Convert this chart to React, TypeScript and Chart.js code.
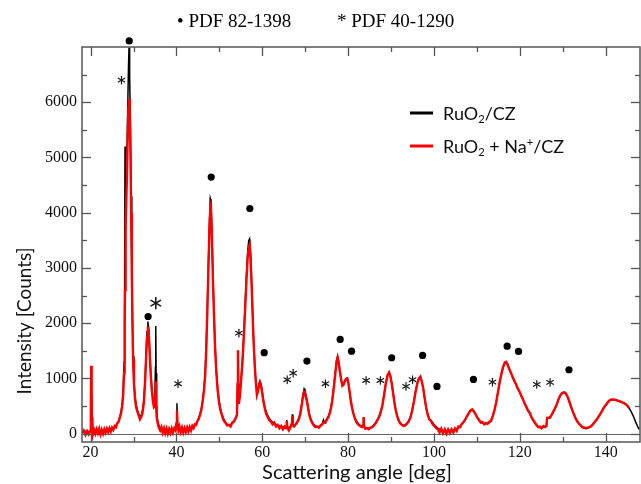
import React, { useEffect, useRef } from 'react';
import { Chart, registerables } from 'chart.js';

Chart.register(...registerables);

// ---------------- data ----------------
const angles = [
  18.0, 18.4, 18.8, 19.2, 19.6, 19.9, 20.05, 20.15, 20.25, 20.35,
  20.5, 20.8, 21.1, 21.4, 21.7, 22.0, 22.3, 22.6, 22.9, 23.2,
  23.5, 23.8, 24.1, 24.4, 24.7, 25.0, 25.3, 25.6, 25.9, 26.2,
  26.5, 26.8, 27.1, 27.4, 27.6, 27.8, 27.9, 27.97, 28.02, 28.08,
  28.25, 28.45, 28.65, 28.82, 28.95, 29.05, 29.15, 29.3, 29.45, 29.6,
  29.75, 29.9, 30.1, 30.35, 30.6, 30.9, 31.2, 31.5, 31.8, 32.1,
  32.4, 32.7, 32.95, 33.15, 33.35, 33.55, 33.75, 34.0, 34.25, 34.5,
  34.75, 34.95, 35.1, 35.18, 35.27, 35.4, 35.6, 35.9, 36.2, 36.5,
  36.8, 37.1, 37.4, 37.7, 38.0, 38.3, 38.6, 38.9, 39.2, 39.5,
  39.8, 40.0, 40.12, 40.25, 40.45, 40.7, 41.0, 41.3, 41.6, 41.9,
  42.2, 42.5, 42.8, 43.1, 43.4, 43.7, 44.0, 44.3, 44.6, 44.9,
  45.2, 45.5, 45.8, 46.1, 46.4, 46.7, 46.95, 47.2, 47.45, 47.7,
  47.9, 48.05, 48.25, 48.5, 48.75, 49.0, 49.3, 49.6, 49.9, 50.2,
  50.6, 51.0, 51.4, 51.8, 52.2, 52.6, 53.0, 53.4, 53.8, 54.1,
  54.25, 54.33, 54.42, 54.55, 54.8, 55.1, 55.4, 55.7, 56.0, 56.3,
  56.6, 56.85, 57.05, 57.25, 57.5, 57.75, 58.0, 58.25, 58.5, 58.75,
  58.95, 59.2, 59.45, 59.7, 60.0, 60.3, 60.6, 60.9, 61.2, 61.6,
  62.0, 62.4, 62.8, 63.2, 63.6, 64.0, 64.4, 64.8, 65.2, 65.55,
  65.7, 65.85, 66.2, 66.6, 66.9, 67.0, 67.12, 67.4, 67.7, 68.0,
  68.3, 68.6, 68.9, 69.2, 69.5, 69.75, 69.95, 70.15, 70.4, 70.65,
  70.9, 71.2, 71.6, 72.0, 72.4, 72.8, 73.2, 73.6, 74.0, 74.25,
  74.4, 74.7, 75.0, 75.4, 75.8, 76.1, 76.4, 76.7, 77.0, 77.3,
  77.55, 77.8, 78.05, 78.35, 78.65, 78.95, 79.25, 79.55, 79.8, 80.05,
  80.3, 80.6, 80.9, 81.2, 81.6, 82.0, 82.4, 82.8, 83.2, 83.5,
  83.6, 83.72, 84.0, 84.4, 84.8, 85.2, 85.6, 86.0, 86.4, 86.8,
  87.2, 87.6, 88.0, 88.4, 88.8, 89.2, 89.55, 89.85, 90.15, 90.45,
  90.75, 91.05, 91.35, 91.7, 92.1, 92.5, 92.9, 93.3, 93.7, 94.1,
  94.5, 94.9, 95.3, 95.7, 96.1, 96.45, 96.8, 97.15, 97.5, 97.85,
  98.2, 98.55, 98.9, 99.3, 99.7, 100.1, 100.5, 100.9, 101.3, 101.7,
  102.1, 102.5, 102.9, 103.3, 103.7, 104.1, 104.5, 104.9, 105.3, 105.7,
  106.1, 106.5, 106.9, 107.3, 107.7, 108.1, 108.5, 108.9, 109.3, 109.7,
  110.1, 110.5, 110.9, 111.3, 111.7, 112.1, 112.5, 112.9, 113.3, 113.7,
  114.1, 114.5, 114.9, 115.3, 115.7, 116.1, 116.5, 116.8, 117.1, 117.5,
  117.9, 118.3, 118.7, 119.1, 119.5, 119.9, 120.3, 120.7, 121.1, 121.5,
  121.9, 122.3, 122.7, 123.1, 123.5, 123.9, 124.3, 124.7, 125.1, 125.5,
  125.9, 126.2, 126.35, 126.6, 127.0, 127.4, 127.8, 128.2, 128.6, 129.0,
  129.4, 129.8, 130.2, 130.6, 131.0, 131.4, 131.8, 132.2, 132.6, 133.0,
  133.4, 133.8, 134.2, 134.6, 135.0, 135.4, 135.8, 136.2, 136.6, 137.0,
  137.4, 137.8, 138.2, 138.6, 139.0, 139.4, 139.8, 140.2, 140.6, 141.0,
  141.4, 141.8, 142.2, 142.6, 143.0, 143.4, 143.8, 144.2, 144.6, 145.0,
  145.4, 145.8, 146.2, 146.6, 147.0, 147.4, 147.8,
];

// RuO2/CZ (black)
const ruo2Counts = [
  40, 30, 45, 35, 40, 50, 60, 150, 720, 300,
  110, 80, 70, 60, 55, 50, 45, 50, 40, 45,
  50, 50, 55, 60, 65, 75, 90, 110, 140, 180,
  230, 300, 400, 560, 800, 1300, 2000, 3000, 5200, 3700,
  4200, 5000, 5900, 6600, 6990, 6900, 6500, 5500, 4300, 3100,
  2100, 1400, 950, 680, 530, 430, 360, 310, 330, 420,
  600, 980, 1500, 1850, 2030, 1900, 1550, 1150, 850, 660,
  540, 560, 1200, 1950, 1100, 420, 250, 150, 110, 90,
  80, 75, 70, 70, 65, 65, 60, 60, 65, 70,
  80, 200, 550, 180, 150, 110, 90, 85, 80, 80,
  80, 85, 90, 95, 105, 115, 135, 160, 190, 230,
  290, 360, 450, 600, 800, 1100, 1600, 2300, 3100, 3850,
  4250, 4200, 3700, 2900, 2200, 1600, 1150, 830, 620, 470,
  350, 270, 210, 170, 150, 160, 190, 230, 290, 350,
  900, 1500, 900, 560, 720, 1020, 1350, 1800, 2300, 2850,
  3300, 3500, 3530, 3300, 2800, 2200, 1650, 1250, 950, 760,
  780, 900, 950, 900, 760, 600, 480, 400, 340, 280,
  240, 210, 190, 170, 150, 140, 130, 120, 115, 130,
  250, 120, 110, 130, 200, 350, 160, 150, 170, 200,
  240, 300, 400, 550, 720, 815, 790, 700, 620, 490,
  380, 290, 210, 170, 140, 125, 130, 150, 180, 250,
  220, 220, 260, 320, 400, 520, 680, 880, 1100, 1320,
  1400, 1300, 1150, 1000, 880, 900, 960, 1000, 1010, 930,
  790, 620, 480, 380, 280, 220, 180, 150, 130, 160,
  300, 140, 110, 100, 100, 110, 130, 160, 200, 250,
  310, 400, 530, 720, 930, 1070, 1115, 1050, 920, 760,
  590, 450, 350, 260, 200, 160, 150, 160, 190, 230,
  300, 420, 580, 760, 910, 1000, 1035, 960, 830, 640,
  470, 350, 270, 240, 200, 160, 130, 100, 80, 70,
  60, 55, 55, 55, 60, 65, 70, 80, 95, 115,
  140, 175, 215, 260, 320, 380, 420, 440, 410, 350,
  290, 240, 210, 195, 185, 180, 185, 200, 240, 320,
  430, 570, 750, 930, 1080, 1200, 1280, 1300, 1250, 1180,
  1100, 1030, 960, 890, 820, 760, 690, 620, 550, 480,
  420, 370, 300, 240, 190, 150, 120, 110, 115, 125,
  130, 150, 290, 280, 300, 340, 400, 460, 530, 620,
  690, 730, 750, 740, 690, 610, 520, 430, 350, 280,
  220, 180, 140, 115, 100, 95, 100, 115, 130, 160,
  200, 240, 290, 340, 390, 440, 490, 530, 570, 600,
  615, 615, 610, 600, 590, 580, 570, 555, 540, 510,
  470, 420, 360, 290, 210, 140, 80,
];

// RuO2 + Na+/CZ (red)
const ruo2NaCounts = [
  10, 60, -20, 50, -10, 40, 300, 1230, 400, 60,
  -20, 70, 0, 80, 10, 90, -10, 70, 0, 80,
  20, 90, 30, 100, 40, 110, 70, 140, 120, 190,
  210, 290, 370, 520, 720, 1100, 1500, 2000, 2600, 3000,
  3800, 4600, 5400, 5900, 6060, 6030, 5800, 5000, 4000, 2900,
  2000, 1350, 900, 640, 480, 400, 330, 260, 300, 380,
  560, 930, 1420, 1750, 1940, 1820, 1480, 1080, 800, 600,
  480, 500, 700, 950, 500, 300, 200, 110, 60, 120,
  20, 100, 10, 90, 0, 85, 15, 95, 20, 100,
  60, 180, 420, 140, 60, 130, 30, 110, 20, 100,
  30, 110, 40, 120, 60, 140, 100, 170, 160, 230,
  270, 340, 430, 580, 770, 1060, 1540, 2220, 3000, 3730,
  4130, 4080, 3600, 2800, 2130, 1560, 1100, 790, 580, 440,
  330, 240, 200, 150, 160, 130, 200, 220, 280, 340,
  900, 1510, 850, 540, 700, 1000, 1320, 1760, 2250, 2760,
  3180, 3380, 3420, 3200, 2720, 2150, 1620, 1220, 930, 700,
  750, 860, 930, 870, 720, 570, 450, 360, 310, 250,
  220, 170, 200, 130, 160, 100, 140, 80, 130, 100,
  230, 110, 60, 120, 180, 320, 150, 130, 160, 190,
  230, 280, 380, 520, 680, 760, 740, 660, 590, 470,
  360, 270, 200, 150, 120, 130, 110, 150, 170, 200,
  210, 200, 250, 300, 390, 500, 660, 860, 1080, 1300,
  1380, 1290, 1140, 990, 870, 890, 950, 990, 1000, 920,
  780, 610, 470, 370, 270, 200, 160, 140, 120, 160,
  300, 130, 90, 100, 80, 110, 120, 150, 190, 240,
  300, 390, 520, 710, 920, 1060, 1110, 1040, 910, 750,
  580, 440, 340, 250, 190, 160, 140, 150, 180, 220,
  290, 410, 570, 750, 900, 990, 1030, 950, 820, 630,
  460, 340, 260, 230, 170, 140, 100, 80, 20, 90,
  10, 80, 0, 75, 10, 80, 20, 95, 50, 130,
  120, 180, 210, 260, 320, 370, 420, 440, 400, 350,
  290, 250, 200, 210, 170, 195, 180, 215, 230, 320,
  430, 570, 750, 930, 1080, 1210, 1290, 1300, 1260, 1180,
  1110, 1030, 960, 900, 820, 770, 690, 630, 550, 490,
  420, 380, 300, 250, 200, 160, 120, 130, 100, 140,
  120, 140, 280, 290, 290, 340, 400, 460, 530, 620,
  690, 730, 750, 740, 690, 610, 520, 430, 350, 280,
  220, 180, 150, 120, 110, 100, 110, 120, 140, 170,
  210, 250, 290, 340, 390, 450, 500, 540, 580, 610,
  620, 620, 615, 605, 595, 585, 570, 555, 540, 510,
  470, null, null, null, null, null, null,
];

// reflection markers: PDF 82-1398 (dots)
const dotAngles = [29.0, 33.4, 48.1, 57.1, 60.45, 70.4, 78.15, 80.8, 90.15, 97.35, 100.7, 109.2, 117.05, 119.7, 131.45];
const dotCounts = [7110, 2122, 4646, 4076, 1466, 1314, 1706, 1494, 1375, 1417, 856, 982, 1585, 1489, 1158];

// reflection markers: PDF 40-1290 (asterisks)
const starAngles = [27.2, 40.37, 54.56, 65.81, 67.2, 74.72, 84.19, 87.51, 93.49, 95.02, 113.63, 123.95, 127.05];
const starCounts = [6400, 905, 1820, 977, 1096, 905, 964, 964, 856, 977, 934, 892, 928];
const largeStarAngles = [35.19];
const largeStarCounts = [2363];

const xTickValues = [20, 40, 60, 80, 100, 120, 140];
const xMinorValues = [30, 50, 70, 90, 110, 130];
const yTickValues = [0, 1000, 2000, 3000, 4000, 5000, 6000];
const yMinorValues = [500, 1500, 2500, 3500, 4500, 5500, 6500];

const xAxisTitle = 'Scattering angle [deg]';
const yAxisTitle = 'Intensity [Counts]';
const seriesNames = ['RuO₂/CZ', 'RuO₂ + Na⁺/CZ'];
const seriesColors = ['#000000', '#ff0000'];
const phaseLabels = ['PDF 82-1398', 'PDF 40-1290'];
const phaseSymbols = ['•', '*'];

// ---------------- drawing helpers ----------------
const SANS = 'Lato, "Open Sans", "DejaVu Sans", sans-serif';
const SERIF = '"Liberation Serif", "DejaVu Serif", serif';

function drawRich(ctx: CanvasRenderingContext2D, text: string, x: number, y: number, size: number) {
  const runs: { kind: string; t: string }[] = [];
  for (const ch of text) {
    let kind = 'n';
    let t = ch;
    if (ch === '₂') { kind = 'sub'; t = '2'; }
    else if (ch === '⁺') { kind = 'sup'; t = '+'; }
    const last = runs[runs.length - 1];
    if (last && last.kind === kind) last.t += t;
    else runs.push({ kind, t });
  }
  let cx = x;
  ctx.textAlign = 'left';
  ctx.textBaseline = 'alphabetic';
  for (const r of runs) {
    const s = r.kind === 'n' ? size : size * 0.62;
    const dy = r.kind === 'sub' ? size * 0.2 : r.kind === 'sup' ? -size * 0.36 : 0;
    ctx.font = `${s}px ${SANS}`;
    ctx.fillText(r.t, cx, y + dy);
    cx += ctx.measureText(r.t).width;
  }
}

function fitSize(ctx: CanvasRenderingContext2D, text: string, family: string, target: number) {
  ctx.font = `20px ${family}`;
  const w = ctx.measureText(text).width;
  return w > 0 ? (20 * target) / w : 20;
}

function drawAsterisk(ctx: CanvasRenderingContext2D, x: number, y: number, r: number, lw: number) {
  ctx.save();
  ctx.strokeStyle = '#1a1a1a';
  ctx.lineWidth = lw;
  ctx.lineCap = 'round';
  for (let k = 0; k < 3; k++) {
    const a = Math.PI / 2 + (k * Math.PI) / 3;
    ctx.beginPath();
    ctx.moveTo(x - r * Math.cos(a), y - r * Math.sin(a));
    ctx.lineTo(x + r * Math.cos(a), y + r * Math.sin(a));
    ctx.stroke();
  }
  ctx.restore();
}

const decorPlugin = {
  id: 'xrdDecor',
  beforeDatasetsDraw(chart: any) {
    const { ctx, chartArea: a, scales } = chart;
    const y0 = Math.round(scales.y.getPixelForValue(0)) + 0.5;
    ctx.save();
    ctx.strokeStyle = '#666';
    ctx.lineWidth = 1;
    ctx.beginPath();
    ctx.moveTo(a.left, y0);
    ctx.lineTo(a.right, y0);
    ctx.stroke();
    ctx.restore();
  },
  afterDatasetsDraw(chart: any) {
    const { ctx, chartArea: a, scales } = chart;
    const xs = scales.x;
    const ys = scales.y;
    ctx.save();
    ctx.strokeStyle = '#555';
    ctx.lineWidth = 1.5;
    ctx.strokeRect(a.left, a.top, a.right - a.left, a.bottom - a.top);
    ctx.lineWidth = 1.3;
    const tick = (x1: number, y1: number, x2: number, y2: number) => {
      ctx.beginPath();
      ctx.moveTo(x1, y1);
      ctx.lineTo(x2, y2);
      ctx.stroke();
    };
    const xt = (vals: number[], len: number) => vals.forEach((v) => {
      const px = Math.round(xs.getPixelForValue(v)) + 0.5;
      tick(px, a.bottom, px, a.bottom - len);
      tick(px, a.top, px, a.top + len);
    });
    const yt = (vals: number[], len: number) => vals.forEach((v) => {
      const py = Math.round(ys.getPixelForValue(v)) + 0.5;
      tick(a.left, py, a.left + len, py);
      tick(a.right, py, a.right - len, py);
    });
    xt(xTickValues, 9);
    xt(xMinorValues, 5);
    yt(yTickValues, 9);
    yt(yMinorValues, 5);
    ctx.fillStyle = '#000';
    dotAngles.forEach((ang, i) => {
      ctx.beginPath();
      ctx.arc(xs.getPixelForValue(ang), ys.getPixelForValue(dotCounts[i]), 3.6, 0, Math.PI * 2);
      ctx.fill();
    });
    starAngles.forEach((ang, i) => {
      drawAsterisk(ctx, xs.getPixelForValue(ang), ys.getPixelForValue(starCounts[i]), 3.8, 1.2);
    });
    largeStarAngles.forEach((ang, i) => {
      drawAsterisk(ctx, xs.getPixelForValue(ang), ys.getPixelForValue(largeStarCounts[i]), 5.5, 1.6);
    });
    ctx.restore();
  },
  afterDraw(chart: any) {
    const { ctx } = chart;
    ctx.save();
    ctx.fillStyle = '#111';
    const xs = fitSize(ctx, xAxisTitle, SANS, 190);
    ctx.font = `${xs}px ${SANS}`;
    ctx.textAlign = 'center';
    ctx.textBaseline = 'middle';
    ctx.fillText(xAxisTitle, 357, 472);
    const ysz = fitSize(ctx, yAxisTitle, SANS, 147);
    ctx.save();
    ctx.translate(25, 321);
    ctx.rotate(-Math.PI / 2);
    ctx.font = `${ysz}px ${SANS}`;
    ctx.fillText(yAxisTitle, 0, 0);
    ctx.restore();
    ctx.font = `19px ${SERIF}`;
    ctx.textAlign = 'left';
    ctx.textBaseline = 'alphabetic';
    ctx.fillStyle = '#000';
    ctx.fillText(`${phaseSymbols[0]} ${phaseLabels[0]}`, 177, 27);
    ctx.fillText(`${phaseSymbols[1]} ${phaseLabels[1]}`, 337, 27);
    const rows = [113, 146];
    seriesNames.forEach((name, i) => {
      ctx.strokeStyle = seriesColors[i];
      ctx.lineWidth = 3;
      ctx.beginPath();
      ctx.moveTo(410, rows[i]);
      ctx.lineTo(433, rows[i]);
      ctx.stroke();
      ctx.fillStyle = '#111';
      drawRich(ctx, name, 443, rows[i] + 6.5, 18);
    });
    ctx.restore();
  },
};

export default function App() {
  const ref = useRef<HTMLCanvasElement | null>(null);

  useEffect(() => {
    const canvas = ref.current;
    if (!canvas) return;
    const toPoints = (vals: (number | null)[]) =>
      angles
        .map((a, i) => ({ x: a, y: vals[i] }))
        .filter((p) => p.y !== null && p.y !== undefined) as { x: number; y: number }[];

    const chart = new Chart(canvas, {
      type: 'scatter',
      data: {
        datasets: [
          {
            label: seriesNames[1],
            data: toPoints(ruo2NaCounts),
            showLine: true,
            borderColor: seriesColors[1],
            backgroundColor: seriesColors[1],
            borderWidth: 2.4,
            pointRadius: 0,
            tension: 0,
            order: 1,
          },
          {
            label: seriesNames[0],
            data: toPoints(ruo2Counts),
            showLine: true,
            borderColor: seriesColors[0],
            backgroundColor: seriesColors[0],
            borderWidth: 1.5,
            pointRadius: 0,
            tension: 0,
            order: 2,
          },
        ],
      },
      options: {
        responsive: false,
        animation: false,
        events: [],
        layout: { padding: { top: 47, right: 1, left: 0, bottom: 0 } },
        plugins: { legend: { display: false }, tooltip: { enabled: false } },
        scales: {
          x: {
            type: 'linear',
            min: 18,
            max: 148,
            afterBuildTicks: (s: any) => {
              s.ticks = xTickValues.map((v) => ({ value: v }));
            },
            afterFit: (s: any) => {
              s.height = 42;
            },
            grid: { display: false, drawTicks: false },
            border: { display: false },
            ticks: {
              font: { family: SERIF, size: 16 },
              color: '#111',
              padding: 1,
              maxRotation: 0,
              autoSkip: false,
              callback: (v: any) => String(v),
            },
          },
          y: {
            type: 'linear',
            min: -150,
            max: 7000,
            afterBuildTicks: (s: any) => {
              s.ticks = yTickValues.map((v) => ({ value: v }));
            },
            afterFit: (s: any) => {
              s.width = 82;
            },
            grid: { display: false, drawTicks: false },
            border: { display: false },
            ticks: {
              font: { family: SERIF, size: 16 },
              color: '#111',
              padding: 5,
              autoSkip: false,
              callback: (v: any) => String(v),
            },
          },
        },
      },
      plugins: [decorPlugin],
    } as any);

    return () => chart.destroy();
  }, []);

  return (
    <div style={{ position: 'fixed', left: 0, top: 0, width: 641, height: 484, background: '#fff' }}>
      <canvas ref={ref} width={641} height={484} style={{ display: 'block', width: 641, height: 484 }} />
    </div>
  );
}
